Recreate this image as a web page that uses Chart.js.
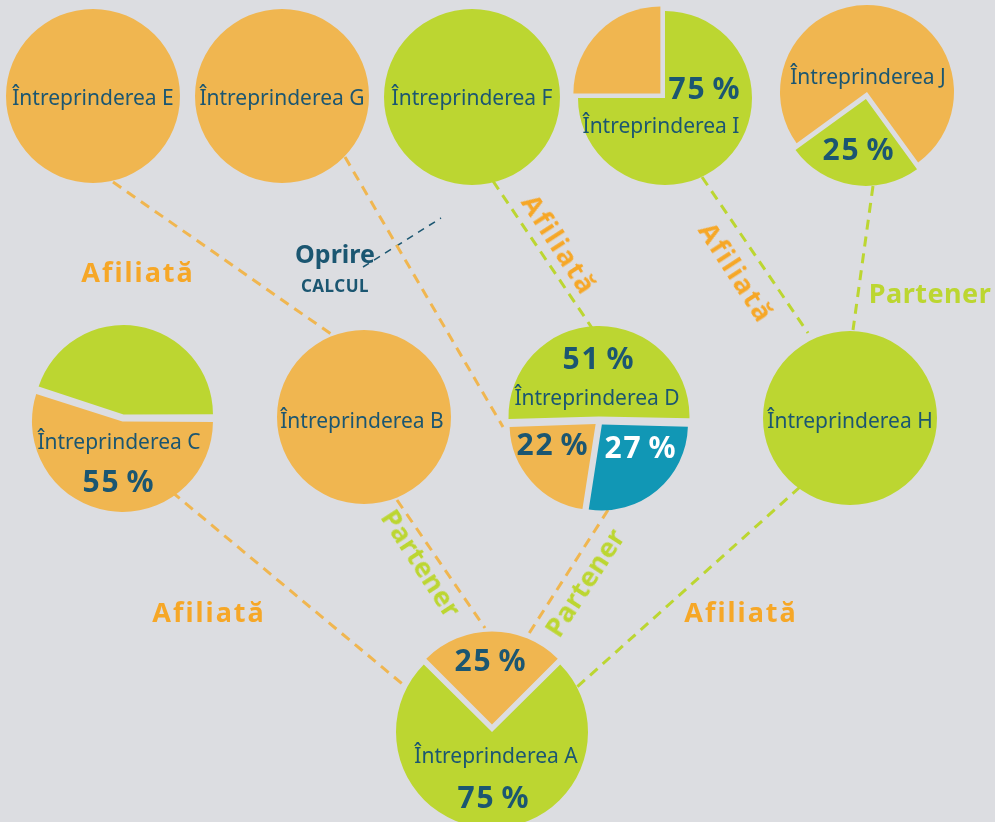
<!DOCTYPE html>
<html lang="ro">
<head>
<meta charset="utf-8">
<script src="https://cdn.jsdelivr.net/npm/chart.js@4.4.1/dist/chart.umd.min.js"></script>
<style>
  body { margin: 0; background: #dcdde1; }
  #stage { position: relative; width: 995px; height: 822px; overflow: hidden; background: #dcdde1; font-family: "Noto Sans", sans-serif; }
  #stage canvas { position: absolute; }
  .lbl { position: absolute; white-space: nowrap; transform: translate(-50%, -50%); line-height: 1; color: #1b5671; }
  .name { font-size: 21px; }
  .pct { font-size: 30px; font-weight: 700; letter-spacing: 2px; word-spacing: -4px; }
  .rel { font-size: 27px; font-weight: 700; }
  .rel.aff { letter-spacing: 2px; }
  .rel.par { letter-spacing: 0.5px; }
  .stop { font-size: 25px; font-weight: 700; }
  .calc { font-size: 17px; font-weight: 700; letter-spacing: 0.5px; }
</style>
</head>
<body>
<div id="stage">
  <canvas id="links" width="995" height="822" style="left:0;top:0"></canvas>
</div>
<script>
// companies and their ownership splits (percent)
const companies = ['E', 'G', 'F', 'I', 'J', 'C', 'B', 'D', 'H', 'A'];
const shareValues = [
  [100],          // E
  [100],          // G
  [100],          // F
  [75, 25],       // I
  [25, 75],       // J
  [55, 45],       // C
  [100],          // B
  [51, 27, 22],   // D
  [100],          // H
  [25, 75]        // A
];
// which slices carry a percent label
const shownShares = [[], [], [], [0], [0], [0], [], [0, 1, 2], [], [0, 1]];
// relation labels
const relationTexts = ['Afiliată', 'Afiliată', 'Afiliată', 'Partener', 'Afiliată', 'Partener', 'Partener', 'Afiliată'];

const ORANGE = '#f0b650';
const GREEN = '#bcd631';
const BLUE = '#1197b5';
const NAVY = '#1b5671';
const LABEL_ORANGE = '#f6a727';

// layout: pie centres, radius, start angle, slice colours, exploded offsets (chart.js offset, /4 in px)
const pieLayout = {
  E: { x: 93, y: 96, r: 87, rot: 0, colors: [ORANGE], offset: [0] },
  G: { x: 282, y: 96, r: 87, rot: 0, colors: [ORANGE], offset: [0] },
  F: { x: 472, y: 97, r: 88, rot: 0, colors: [GREEN], offset: [0] },
  I: { x: 665, y: 98, r: 87, rot: 0, colors: [GREEN, ORANGE], offset: [0, 26] },
  J: { x: 867, y: 92, r: 87, rot: 144, colors: [GREEN, ORANGE], offset: [28, 0] },
  C: { x: 123, y: 418, r: 87, rot: 90, colors: [ORANGE, GREEN], offset: [14, 14] },
  B: { x: 364, y: 417, r: 87, rot: 0, colors: [ORANGE], offset: [0] },
  D: { x: 599, y: 421, r: 86, rot: 268, colors: [GREEN, BLUE, ORANGE], offset: [18, 18, 18] },
  H: { x: 850, y: 418, r: 87, rot: 0, colors: [GREEN], offset: [0] },
  A: { x: 492, y: 729, r: 93, rot: -45, colors: [ORANGE, GREEN], offset: [18, 12] }
};
// label positions
const nameLayout = {
  E: [93, 97], G: [282, 97], F: [472, 97], I: [661, 125], J: [868, 76],
  C: [119, 441], B: [362, 420], D: [597, 397], H: [850, 420], A: [496, 755]
};
const pctLayout = {
  I: [[705, 88]], J: [[859, 149]], C: [[119, 481]],
  D: [[599, 358], [641, 447], [553, 444]], A: [[491, 660], [494, 797]]
};
const pctColors = { D: [NAVY, '#ffffff', NAVY] };

// connector lines
const links = [
  { from: [113, 182], to: [331, 334], color: ORANGE },  // E - B
  { from: [345, 157], to: [503, 427], color: ORANGE },  // G - D
  { from: [493, 181], to: [592, 328], color: GREEN },   // F - D
  { from: [702, 177], to: [808, 333], color: GREEN },   // I - H
  { from: [873, 186], to: [853, 330], color: GREEN },   // J - H
  { from: [172, 492], to: [406, 687], color: ORANGE },  // C - A
  { from: [397, 500], to: [485, 628], color: ORANGE },  // B - A
  { from: [608, 510], to: [528, 635], color: ORANGE },  // D - A
  { from: [800, 487], to: [577, 687], color: GREEN }    // H - A
];
const relationLayout = [
  { at: [138, 271], rot: 0, color: LABEL_ORANGE },
  { at: [560, 244], rot: 57, color: LABEL_ORANGE },
  { at: [737, 272], rot: 57, color: LABEL_ORANGE },
  { at: [930, 292], rot: 0, color: GREEN },
  { at: [209, 611], rot: 0, color: LABEL_ORANGE },
  { at: [422, 563], rot: 57, color: GREEN },
  { at: [584, 582], rot: -57, color: GREEN },
  { at: [741, 611], rot: 0, color: LABEL_ORANGE }
];

const stage = document.getElementById('stage');

function addLabel(text, x, y, cls, color, rot) {
  const d = document.createElement('div');
  d.className = 'lbl ' + cls;
  d.textContent = text;
  d.style.left = x + 'px';
  d.style.top = y + 'px';
  if (color) d.style.color = color;
  if (rot) d.style.transform = 'translate(-50%, -50%) rotate(' + rot + 'deg)';
  stage.appendChild(d);
}

// background: dashed connectors on a hidden linear grid
const linkSets = links.map(l => ({
  data: [{ x: l.from[0], y: l.from[1] }, { x: l.to[0], y: l.to[1] }],
  showLine: true,
  borderColor: l.color,
  borderWidth: 3,
  borderDash: [10, 7],
  pointRadius: 0
}));
// "Oprire calcul" marker
linkSets.push({
  data: [{ x: 363, y: 267 }, { x: 441, y: 218 }],
  showLine: true,
  borderColor: NAVY,
  borderWidth: 1.5,
  borderDash: [7, 6],
  pointRadius: 0
});

new Chart(document.getElementById('links'), {
  type: 'scatter',
  data: { datasets: linkSets },
  options: {
    responsive: false,
    animation: false,
    events: [],
    layout: { padding: 0 },
    scales: {
      x: { type: 'linear', min: 0, max: 995, display: false },
      y: { type: 'linear', min: 0, max: 822, reverse: true, display: false }
    },
    plugins: { legend: { display: false }, tooltip: { enabled: false } }
  }
});

// one pie per company
companies.forEach((c, i) => {
  const p = pieLayout[c];
  const size = 2 * (p.r + 14);
  const cv = document.createElement('canvas');
  cv.width = size;
  cv.height = size;
  cv.style.left = (p.x - size / 2) + 'px';
  cv.style.top = (p.y - size / 2) + 'px';
  stage.appendChild(cv);
  new Chart(cv, {
    type: 'pie',
    data: {
      labels: shareValues[i].map((v, k) => c + k),
      datasets: [{
        data: shareValues[i],
        backgroundColor: p.colors,
        borderWidth: 0,
        offset: p.offset,
        rotation: p.rot,
        radius: p.r
      }]
    },
    options: {
      responsive: false,
      animation: false,
      events: [],
      layout: { padding: 0 },
      plugins: { legend: { display: false }, tooltip: { enabled: false } }
    }
  });
});

// texts
companies.forEach((c, i) => {
  const n = nameLayout[c];
  addLabel('Întreprinderea ' + c, n[0], n[1], 'name');
  shownShares[i].forEach((k, j) => {
    const pos = pctLayout[c][j];
    const col = pctColors[c] ? pctColors[c][k] : NAVY;
    addLabel(shareValues[i][k] + ' %', pos[0], pos[1], 'pct', col);
  });
});
relationTexts.forEach((t, i) => {
  const r = relationLayout[i];
  addLabel(t, r.at[0], r.at[1], 'rel ' + (t === 'Partener' ? 'par' : 'aff'), r.color, r.rot);
});
addLabel('Oprire', 335, 253, 'stop', NAVY);
addLabel('CALCUL', 335, 285, 'calc', NAVY);
</script>
</body>
</html>
